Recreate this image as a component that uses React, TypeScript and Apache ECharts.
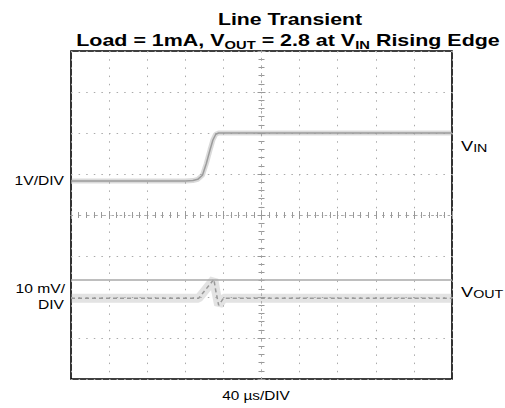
import React, { useEffect, useRef } from "react";
import * as echarts from "echarts";

// time in µs relative to screen centre, amplitude in divisions relative to centre
const vinTime = [-200, -80, -72, -67, -62, -58, -54, -51, -48, -45, 200];
const vinDiv = [0.83, 0.83, 0.84, 0.87, 0.97, 1.25, 1.59, 1.83, 1.97, 2.0, 2.0];
const voutTime = [-200, -66, -58, -50, -48, -45, -42, -40, 200];
const voutDiv = [-2.03, -2.03, -1.8, -1.57, -1.85, -2.2, -2.1, -2.03, -2.03];
const cursorLevel = -1.57;

const FONT = "'Liberation Sans', Arial, sans-serif";

function pairs(xs: number[], ys: number[]) {
  return xs.map((x, i) => [x, ys[i]]);
}

export default function App() {
  const ref = useRef<HTMLDivElement>(null);
  useEffect(() => {
    if (!ref.current) return;
    const chart = echarts.init(ref.current, undefined, { renderer: "svg" });
    const gridColor = "#aaaaaa";
    const tickColor = "#999999";
    const xAxisBase = {
      type: "value",
      min: -200,
      max: 200,
      interval: 40,
      axisLabel: { show: false },
    };
    const yAxisBase = {
      type: "value",
      min: -4,
      max: 4,
      interval: 1,
      axisLabel: { show: false },
    };
    const sub = (size: number, lh: number) => ({
      fontSize: size,
      fontFamily: FONT,
      lineHeight: lh,
      fill: "#000",
      color: "#000",
    });
    const option: any = {
      animation: false,
      grid: {
        left: 71,
        right: 53,
        top: 51,
        bottom: 29,
        show: true,
        borderColor: "#000",
        borderWidth: 1.6,
        backgroundColor: "#fff",
      },
      xAxis: [
        {
          ...xAxisBase,
          position: "bottom",
          axisLine: { show: true, onZero: true, lineStyle: { color: gridColor, width: 1, type: [1.5, 6.7] } },
          axisTick: { show: true, inside: true, length: 4, lineStyle: { color: tickColor } },
          minorTick: { show: true, splitNumber: 5, length: 3, lineStyle: { color: tickColor } },
          splitLine: { show: true, lineStyle: { color: gridColor, width: 1, type: [1.5, 6.7] } },
        },
        {
          ...xAxisBase,
          position: "bottom",
          axisLine: { show: true, onZero: true, lineStyle: { color: gridColor, width: 1, type: [1.5, 6.7] } },
          axisTick: { show: true, inside: false, length: 4, lineStyle: { color: tickColor } },
          minorTick: { show: true, splitNumber: 5, length: 3, lineStyle: { color: tickColor } },
          splitLine: { show: false },
        },
      ],
      yAxis: [
        {
          ...yAxisBase,
          position: "left",
          axisLine: { show: true, onZero: true, lineStyle: { color: gridColor, width: 1, type: [1.5, 6.1] } },
          axisTick: { show: true, inside: true, length: 4, lineStyle: { color: tickColor } },
          minorTick: { show: true, splitNumber: 5, length: 3, lineStyle: { color: tickColor } },
          splitLine: { show: true, lineStyle: { color: gridColor, width: 1, type: [1.5, 6.1] } },
        },
        {
          ...yAxisBase,
          position: "left",
          axisLine: { show: true, onZero: true, lineStyle: { color: gridColor, width: 1, type: [1.5, 6.1] } },
          axisTick: { show: true, inside: false, length: 4, lineStyle: { color: tickColor } },
          minorTick: { show: true, splitNumber: 5, length: 3, lineStyle: { color: tickColor } },
          splitLine: { show: false },
        },
      ],
      series: [
        {
          type: "line",
          data: pairs(vinTime, vinDiv),
          showSymbol: false,
          silent: true,
          lineStyle: { width: 5, color: "rgba(150,150,150,0.35)" },
          z: 3,
        },
        {
          type: "line",
          data: pairs(vinTime, vinDiv),
          showSymbol: false,
          silent: true,
          lineStyle: { width: 1.5, color: "#9c9c9c" },
          z: 4,
        },
        {
          type: "line",
          data: pairs(voutTime, voutDiv),
          showSymbol: false,
          silent: true,
          lineStyle: { width: 9, color: "rgba(175,175,175,0.35)" },
          z: 3,
        },
        {
          type: "line",
          data: pairs(voutTime, voutDiv),
          showSymbol: false,
          silent: true,
          lineStyle: { width: 1.5, color: "#999999", type: [4, 3] },
          z: 4,
          markLine: {
            silent: true,
            symbol: "none",
            label: { show: false },
            lineStyle: { color: "#a8a8a8", width: 1.5, type: "solid" },
            data: [{ yAxis: cursorLevel }],
          },
        },
      ],
      graphic: [
        {
          type: "text",
          x: 290,
          y: 19,
          scaleX: 1.33,
          style: {
            text: "Line Transient",
            fontSize: 16,
            fontWeight: "bold",
            fontFamily: FONT,
            fill: "#000",
            align: "center",
            textAlign: "center",
            verticalAlign: "middle",
            textVerticalAlign: "middle",
          },
        },
        {
          type: "text",
          x: 288,
          y: 32.5,
          scaleX: 1.34,
          style: {
            text: "{m|Load = 1mA, V}{s|OUT}{m| = 2.8 at V}{s|IN}{m| Rising Edge}",
            fontSize: 16,
            fontWeight: "bold",
            fontFamily: FONT,
            fill: "#000",
            align: "center",
            textAlign: "center",
            verticalAlign: "top",
            textVerticalAlign: "top",
            rich: {
              m: { ...sub(16, 16), fontWeight: "bold", verticalAlign: "top" },
              s: { ...sub(11, 25), fontWeight: "bold" },
            },
          },
        },
        {
          type: "text",
          x: 64,
          y: 181,
          scaleX: 1.25,
          style: {
            text: "1V/DIV",
            fontSize: 12.5,
            fontFamily: FONT,
            fill: "#000",
            align: "right",
            textAlign: "right",
            verticalAlign: "middle",
            textVerticalAlign: "middle",
          },
        },
        {
          type: "text",
          x: 65,
          y: 289,
          scaleX: 1.25,
          style: {
            text: "10 mV/",
            fontSize: 12.5,
            fontFamily: FONT,
            fill: "#000",
            align: "right",
            textAlign: "right",
            verticalAlign: "middle",
            textVerticalAlign: "middle",
          },
        },
        {
          type: "text",
          x: 64,
          y: 305,
          scaleX: 1.25,
          style: {
            text: "DIV",
            fontSize: 12.5,
            fontFamily: FONT,
            fill: "#000",
            align: "right",
            textAlign: "right",
            verticalAlign: "middle",
            textVerticalAlign: "middle",
          },
        },
        {
          type: "text",
          x: 256,
          y: 396,
          scaleX: 1.28,
          style: {
            text: "40 µs/DIV",
            fontSize: 12,
            fontFamily: FONT,
            fill: "#000",
            align: "center",
            textAlign: "center",
            verticalAlign: "middle",
            textVerticalAlign: "middle",
          },
        },
        {
          type: "text",
          x: 461,
          y: 138.5,
          scaleX: 1.3,
          style: {
            text: "{m|V}{s|IN}",
            fontSize: 14,
            fontFamily: FONT,
            fill: "#000",
            align: "left",
            textAlign: "left",
            verticalAlign: "top",
            textVerticalAlign: "top",
            rich: {
              m: { ...sub(14, 14), verticalAlign: "top" },
              s: sub(11, 19.5),
            },
          },
        },
        {
          type: "text",
          x: 461,
          y: 284.5,
          scaleX: 1.3,
          style: {
            text: "{m|V}{s|OUT}",
            fontSize: 14,
            fontFamily: FONT,
            fill: "#000",
            align: "left",
            textAlign: "left",
            verticalAlign: "top",
            textVerticalAlign: "top",
            rich: {
              m: { ...sub(14, 14), verticalAlign: "top" },
              s: sub(11, 19.5),
            },
          },
        },
      ],
    };
    chart.setOption(option);
    return () => chart.dispose();
  }, []);
  return (
    <div
      ref={ref}
      style={{ position: "absolute", left: 0, top: 0, width: 505, height: 408 }}
    />
  );
}
